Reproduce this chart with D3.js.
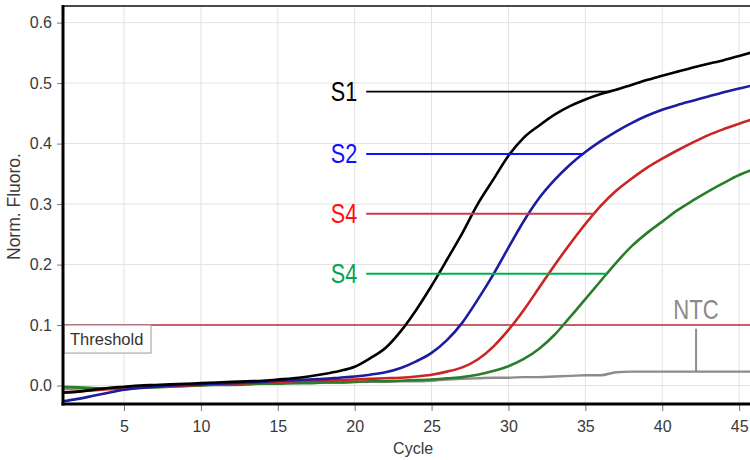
<!DOCTYPE html>
<html>
<head>
<meta charset="utf-8">
<script src="https://cdn.jsdelivr.net/npm/d3@7"></script>
<style>
  body { margin: 0; background: #fff; }
  svg { display: block; }
  text { font-family: "Liberation Sans", Arial, sans-serif; }
</style>
</head>
<body>
<svg id="chart" width="750" height="460"></svg>
<script>
// Amplification cycles 1..46
const cycles = d3.range(1, 47);

// Normalised fluorescence per cycle
const s1 = [-0.012,-0.010,-0.007,-0.004,-0.002,0.000,0.001,0.002,0.003,0.004,
            0.005,0.006,0.007,0.008,0.010,0.012,0.015,0.019,0.024,0.031,
            0.045,0.062,0.090,0.125,0.165,0.208,0.252,0.300,0.340,0.380,
            0.410,0.430,0.448,0.462,0.473,0.482,0.489,0.497,0.505,0.512,
            0.519,0.526,0.532,0.538,0.545,0.552];
const s2 = [-0.026,-0.022,-0.017,-0.012,-0.007,-0.004,-0.002,0.000,0.001,0.002,
            0.003,0.004,0.005,0.006,0.008,0.009,0.010,0.011,0.013,0.015,
            0.018,0.022,0.029,0.040,0.054,0.075,0.104,0.142,0.183,0.228,
            0.272,0.310,0.340,0.365,0.386,0.404,0.420,0.434,0.446,0.456,
            0.464,0.471,0.478,0.485,0.491,0.497];
const s3 = [-0.011,-0.010,-0.008,-0.006,-0.005,-0.003,-0.002,-0.001,0.000,0.001,
            0.002,0.003,0.004,0.005,0.006,0.007,0.008,0.008,0.009,0.010,
            0.011,0.012,0.013,0.015,0.018,0.023,0.030,0.043,0.064,0.092,
            0.125,0.162,0.199,0.234,0.267,0.297,0.322,0.342,0.360,0.375,
            0.389,0.402,0.414,0.424,0.433,0.441];
const s4 = [-0.002,-0.003,-0.004,-0.005,-0.005,-0.004,-0.003,-0.002,-0.001,0.000,
            0.001,0.001,0.002,0.003,0.003,0.004,0.004,0.005,0.005,0.006,
            0.007,0.007,0.008,0.009,0.010,0.012,0.014,0.018,0.024,0.032,
            0.044,0.061,0.084,0.113,0.143,0.173,0.203,0.230,0.252,0.271,
            0.290,0.306,0.321,0.335,0.348,0.358];
const ntc = [-0.006,-0.005,-0.005,-0.004,-0.004,-0.003,-0.002,-0.001,0.000,0.001,
             0.002,0.002,0.003,0.003,0.004,0.004,0.005,0.005,0.005,0.006,
             0.006,0.006,0.007,0.007,0.008,0.010,0.011,0.012,0.013,0.013,
             0.014,0.014,0.015,0.016,0.017,0.017,0.022,0.023,0.023,0.023,
             0.023,0.023,0.023,0.023,0.023,0.023];

const threshold = 0.1;
const xTicks = [5, 10, 15, 20, 25, 30, 35, 40, 45];
const yTicks = [0.0, 0.1, 0.2, 0.3, 0.4, 0.5, 0.6];

// Sample labels with the fluorescence level their leader line sits at
const labelNames  = ["S1", "S2", "S4", "S4"];
const labelLevels = [0.486, 0.383, 0.284, 0.185];
const ntcCycle = 42.2;

const sampleSeries = [
  { values: s1, curve: "#000000", label: "#000000", leader: "#000000", lw: 1.6 },
  { values: s2, curve: "#1c1c9e", label: "#1010ff", leader: "#1010ff", lw: 2 },
  { values: s3, curve: "#cc2424", label: "#ff1010", leader: "#c0404c", lw: 2 },
  { values: s4, curve: "#2a7e2a", label: "#00a650", leader: "#00b050", lw: 2 }
];

const svg = d3.select("#chart");
const plotLeft = 63, plotTop = 6, plotBottom = 404, plotW = 692;

const x = d3.scaleLinear().domain([1, 46]).range([plotLeft - 0.5, plotLeft - 0.5 + plotW]);
const y = d3.scaleLinear().domain([-0.0305, 0.6275]).range([plotBottom, plotTop]);

svg.append("defs").append("clipPath").attr("id", "plot-clip")
  .append("rect").attr("x", plotLeft).attr("y", plotTop)
  .attr("width", plotW).attr("height", plotBottom - plotTop);

// Grid
const grid = svg.append("g");
grid.selectAll(".vg").data(xTicks).join("line")
  .attr("x1", d => x(d)).attr("x2", d => x(d)).attr("y1", plotTop).attr("y2", plotBottom)
  .attr("stroke", "#e2e2e2").attr("stroke-width", 1);
grid.selectAll(".hg").data(yTicks).join("line")
  .attr("x1", plotLeft).attr("x2", plotLeft + plotW).attr("y1", d => y(d)).attr("y2", d => y(d))
  .attr("stroke", "#e2e2e2").attr("stroke-width", 1);

// Axes (ticks and labels)
const xAxis = svg.append("g").attr("transform", `translate(0,${plotBottom})`)
  .call(d3.axisBottom(x).tickValues(xTicks).tickSize(7).tickPadding(10).tickFormat(d3.format("d")));
const yAxis = svg.append("g").attr("transform", `translate(${plotLeft},0)`)
  .call(d3.axisLeft(y).tickValues(yTicks).tickSize(6).tickPadding(5).tickFormat(d3.format(".1f")));
[xAxis, yAxis].forEach(a => {
  a.select(".domain").remove();
  a.selectAll(".tick line").attr("stroke", "#777").attr("stroke-width", 1);
  a.selectAll(".tick text").attr("fill", "#3a3a3a").attr("font-size", 16)
    .attr("font-family", "'Liberation Sans', Arial, sans-serif");
});

// Threshold
const plot = svg.append("g").attr("clip-path", "url(#plot-clip)");
plot.append("line")
  .attr("x1", plotLeft).attr("x2", plotLeft + plotW)
  .attr("y1", y(threshold)).attr("y2", y(threshold))
  .attr("stroke", "#b4303e").attr("stroke-width", 1.4);

const thrG = svg.append("g").attr("transform", `translate(${x(1) + 1.5},${y(threshold)})`);
thrG.append("rect").attr("x", 0).attr("y", 0).attr("width", 87).attr("height", 28)
  .attr("fill", "#fff").attr("stroke", "#9a9a9a").attr("stroke-width", 1);
thrG.append("text").attr("x", 6).attr("y", 20).attr("font-size", 16.5).attr("fill", "#333")
  .text("Threshold");

// Curves
const line = d3.line().x((d, i) => x(cycles[i])).y(d => y(d)).curve(d3.curveMonotoneX);
plot.append("path").datum(ntc).attr("d", line)
  .attr("fill", "none").attr("stroke", "#8c8c8c").attr("stroke-width", 2.4);
[...sampleSeries].reverse().forEach(s => {
  plot.append("path").datum(s.values).attr("d", line)
    .attr("fill", "none").attr("stroke", s.curve).attr("stroke-width", 2.6)
    .attr("stroke-linejoin", "round");
});

// Cycle at which a series first reaches a level
function crossing(values, level) {
  for (let i = 1; i < values.length; i++) {
    if (values[i - 1] < level && values[i] >= level) {
      const t = (level - values[i - 1]) / (values[i] - values[i - 1]);
      return cycles[i - 1] + t * (cycles[i] - cycles[i - 1]);
    }
  }
  return cycles[cycles.length - 1];
}

// Sample labels with leader lines to their curves
const leaderStart = x(20.75);
sampleSeries.forEach((s, i) => {
  const yy = y(labelLevels[i]);
  svg.append("line")
    .attr("x1", leaderStart).attr("x2", x(crossing(s.values, labelLevels[i])))
    .attr("y1", yy).attr("y2", yy)
    .attr("stroke", s.leader).attr("stroke-width", s.lw);
  svg.append("g").attr("transform", `translate(${leaderStart - 9},${yy + 9.5}) scale(0.8,1)`)
    .append("text").attr("text-anchor", "end").attr("font-size", 27).attr("fill", s.label)
    .text(labelNames[i]);
});

// NTC annotation
const ntcVal = ntc[Math.round(ntcCycle) - 1];
const nx = x(ntcCycle), ny = y(ntcVal);
svg.append("line").attr("x1", nx).attr("x2", nx).attr("y1", ny).attr("y2", ny - 43)
  .attr("stroke", "#8c8c8c").attr("stroke-width", 2);
svg.append("g").attr("transform", `translate(${nx},${ny - 53}) scale(0.82,1)`)
  .append("text").attr("text-anchor", "middle").attr("font-size", 27).attr("fill", "#8a8a8a")
  .text("NTC");

// Frame: thick axes on left and bottom, thin top border
svg.append("line").attr("x1", plotLeft).attr("x2", plotLeft + plotW).attr("y1", plotTop).attr("y2", plotTop)
  .attr("stroke", "#4a4a4a").attr("stroke-width", 2);
svg.append("line").attr("x1", plotLeft).attr("x2", plotLeft).attr("y1", plotTop - 1).attr("y2", plotBottom + 1.5)
  .attr("stroke", "#000").attr("stroke-width", 3);
svg.append("line").attr("x1", plotLeft - 1.5).attr("x2", plotLeft + plotW).attr("y1", plotBottom).attr("y2", plotBottom)
  .attr("stroke", "#000").attr("stroke-width", 3);

// Axis titles
svg.append("text").attr("x", x(23.8)).attr("y", 454).attr("text-anchor", "middle")
  .attr("font-size", 16).attr("fill", "#3a3a3a").text("Cycle");
svg.append("text").attr("transform", `translate(20,${y(0.296)}) rotate(-90)`)
  .attr("text-anchor", "middle").attr("font-size", 17.5).attr("fill", "#3a3a3a")
  .text("Norm. Fluoro.");
</script>
</body>
</html>
